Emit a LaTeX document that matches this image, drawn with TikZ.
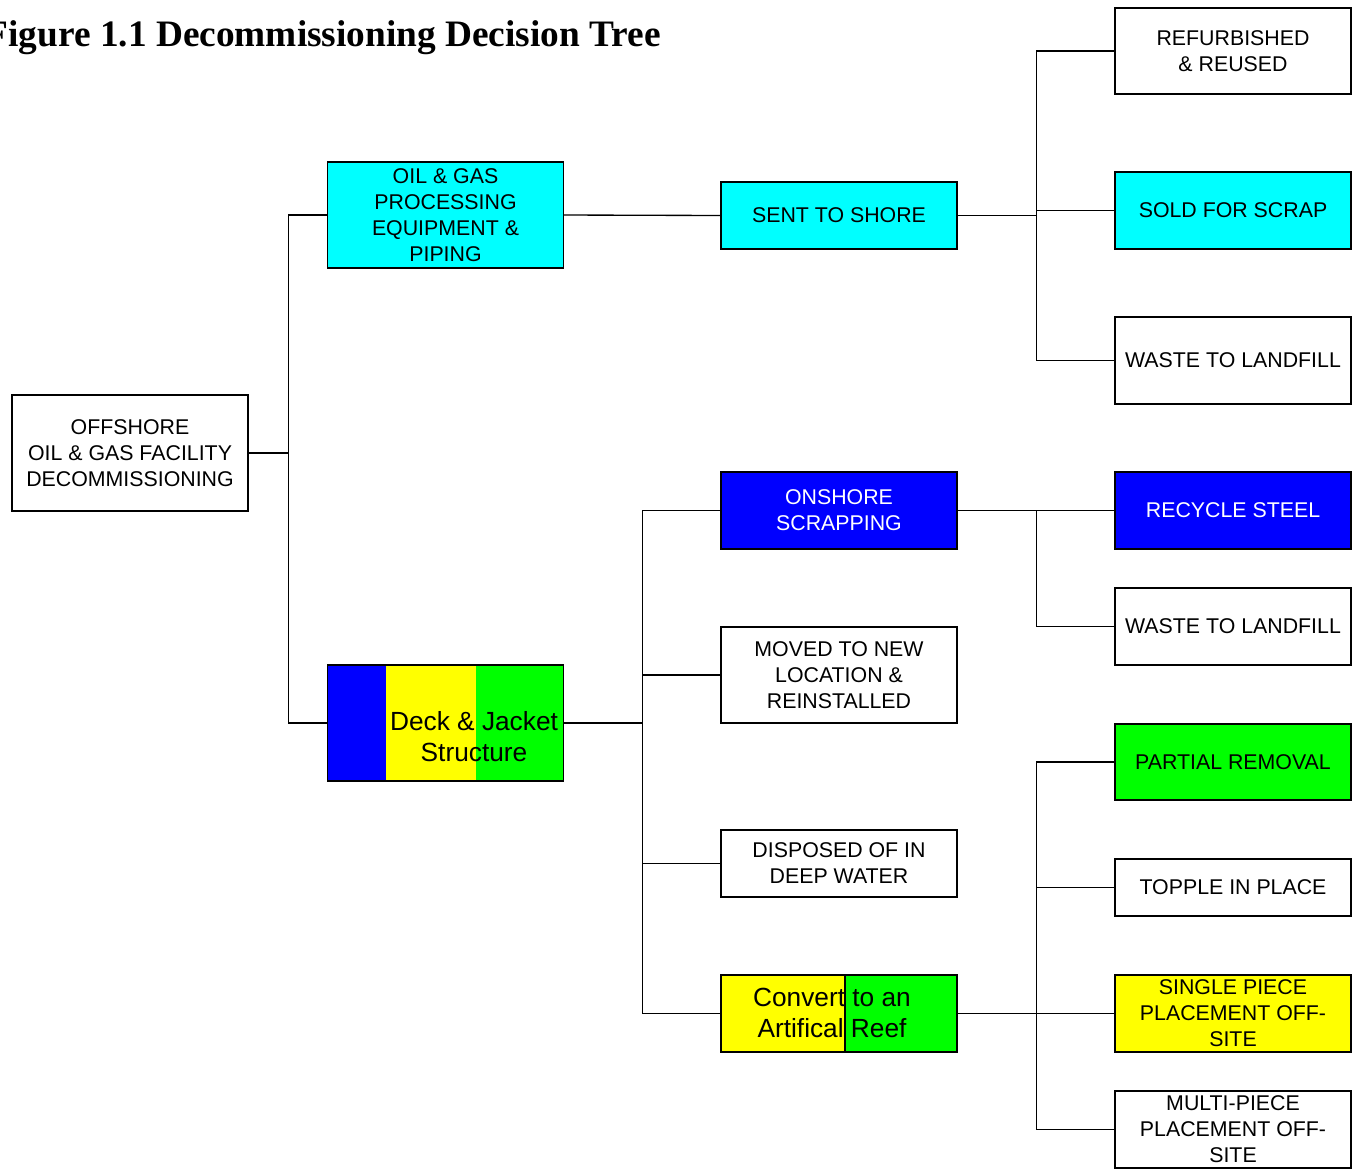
\documentclass[tikz,border=0pt]{standalone}
\usepackage{fontspec}
\setmainfont{Liberation Sans}
\newfontfamily\titlefont{Liberation Serif}
\definecolor{cy}{RGB}{0,255,255}
\definecolor{bl}{RGB}{0,0,255}
\definecolor{ye}{RGB}{255,255,0}
\definecolor{gr}{RGB}{0,255,0}
\begin{document}
\begin{tikzpicture}[x=0.75pt,y=-0.75pt,
  box/.style={draw=black, line width=1pt, minimum width=177pt, inner sep=0pt, align=center, font=\fontsize{16}{19.5}\selectfont},
  bh/.style={minimum height=#1*0.75pt},
  conn/.style={line width=1pt},
  big/.style={align=center, inner sep=0pt, font=\fontsize{19.7}{23.25}\selectfont}]
\useasboundingbox (0,0) rectangle (1359,1172);
\node[anchor=base east, inner sep=0pt, font=\titlefont\bfseries\fontsize{28}{30}\selectfont] (title) at (661,46) {Figure 1.1 Decommissioning Decision Tree};

% multi-colour fills
\fill[bl] (327,665) rectangle (386,781);
\fill[ye] (386,665) rectangle (476,781);
\fill[gr] (476,665) rectangle (564,781);
\fill[ye] (721,975) rectangle (845,1052);
\fill[gr] (845,975) rectangle (957,1052);
\draw[line width=0.8pt] (845,975) -- (845,1052);

\node[box, bh=116] (offshore) at (130,453) {OFFSHORE\\OIL \& GAS FACILITY\\DECOMMISSIONING};
\node[box, bh=106, fill=cy] (oilgas) at (445.5,215) {OIL \& GAS\\PROCESSING\\EQUIPMENT \&\\PIPING};
\node[box, bh=116] (deck) at (445.5,723) {};
\node[big] (decktext) at (474,737) {Deck \& Jacket\\Structure};

\node[box, bh=67, fill=cy] (sent) at (839,215.5) {SENT TO SHORE};
\node[box, bh=77, fill=bl, text=white] (onshore) at (839,510.5) {ONSHORE\\SCRAPPING};
\node[box, bh=96] (moved) at (839,675) {MOVED TO NEW\\LOCATION \&\\REINSTALLED};
\node[box, bh=67] (disposed) at (839,863.5) {DISPOSED OF IN\\DEEP WATER};
\node[box, bh=77] (convert) at (839,1013.5) {};
\node[big] (converttext) at (832,1013) {Convert to an\\Artifical Reef};

\node[box, bh=86] (refurb) at (1233,51) {REFURBISHED\\\& REUSED};
\node[box, bh=77, fill=cy] (sold) at (1233,210.5) {SOLD FOR SCRAP};
\node[box, bh=87] (waste1) at (1233,360.5) {WASTE TO LANDFILL};
\node[box, bh=77, fill=bl, text=white] (recycle) at (1233,510.5) {RECYCLE STEEL};
\node[box, bh=77] (waste2) at (1233,626.5) {WASTE TO LANDFILL};
\node[box, bh=76, fill=gr] (partial) at (1233,762) {PARTIAL REMOVAL};
\node[box, bh=57] (topple) at (1233,887.5) {TOPPLE IN PLACE};
\node[box, bh=77, fill=ye] (single) at (1233,1013.5) {SINGLE PIECE\\PLACEMENT OFF-\\SITE};
\node[box, bh=77] (multi) at (1233,1129.5) {MULTI-PIECE\\PLACEMENT OFF-\\SITE};

% connectors
\draw[conn] (offshore.east) -- ++(40,0) |- (oilgas.west);
\draw[conn] (offshore.east) -- ++(40,0) |- (deck.west);
\draw[conn] (oilgas.east) -- (sent.west);
\foreach \t in {refurb,sold,waste1}
  \draw[conn] (sent.east) -- ++(79,0) |- (\t.west);
\foreach \t in {onshore,moved,disposed,convert}
  \draw[conn] (deck.east) -- ++(78,0) |- (\t.west);
\foreach \t in {recycle,waste2}
  \draw[conn] (onshore.east) -- ++(79,0) |- (\t.west);
\foreach \t in {partial,topple,single,multi}
  \draw[conn] (convert.east) -- ++(79,0) |- (\t.west);
\end{tikzpicture}
\end{document}
